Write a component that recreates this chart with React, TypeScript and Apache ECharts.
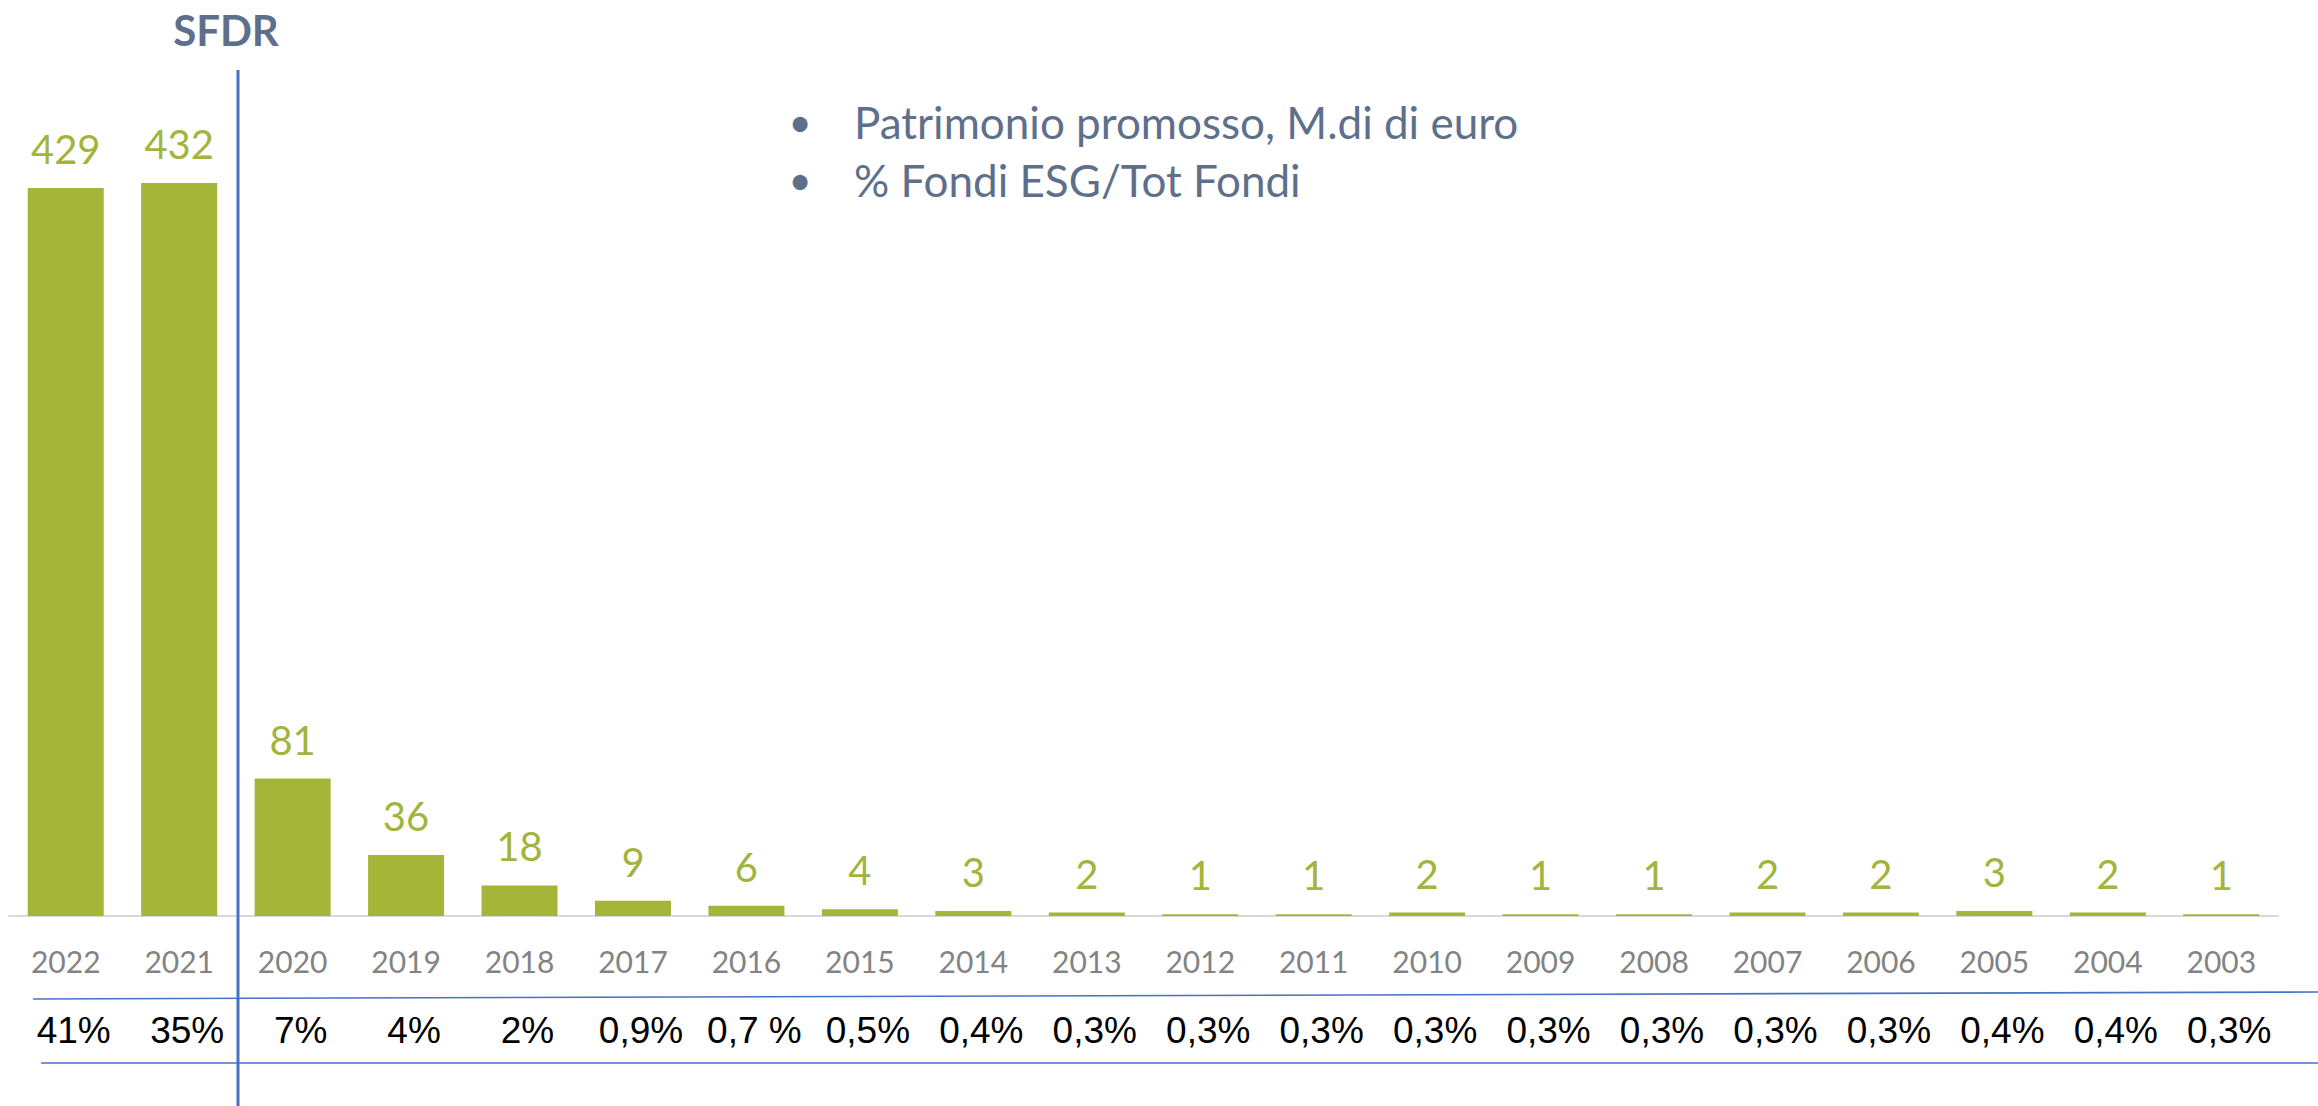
import React, { useEffect, useRef } from "react";
import * as echarts from "echarts";

const categories = ["2022", "2021", "2020", "2019", "2018", "2017", "2016", "2015", "2014", "2013", "2012", "2011", "2010", "2009", "2008", "2007", "2006", "2005", "2004", "2003"];
const assets = [429, 432, 81, 36, 18, 9, 6, 4, 3, 2, 1, 1, 2, 1, 1, 2, 2, 3, 2, 1];
const esgShare = ["41%", "35%", "7%", "4%", "2%", "0,9%", "0,7 %", "0,5%", "0,4%", "0,3%", "0,3%", "0,3%", "0,3%", "0,3%", "0,3%", "0,3%", "0,3%", "0,4%", "0,4%", "0,3%"];
const legendItems = ["Patrimonio promosso, M.di di euro", "% Fondi ESG/Tot Fondi"];
const markerLabel = "SFDR";

const GREEN = "#A5B537";
const SLATE = "#5E6F8C";
const BLUE = "#4472C4";

export default function App() {
  const ref = useRef<HTMLDivElement>(null);
  useEffect(() => {
    if (!ref.current) return;
    const chart = echarts.init(ref.current, undefined, { renderer: "svg" });
    const legendGraphics: any[] = [];
    legendItems.forEach((t, i) => {
      legendGraphics.push({
        type: "text",
        x: 800,
        y: 122 + i * 58,
        style: { text: "•", fontFamily: "Lato", fontSize: 40, fill: SLATE, textAlign: "center", textVerticalAlign: "middle" },
      });
      legendGraphics.push({
        type: "text",
        x: 854,
        y: 122 + i * 58,
        style: { text: t, fontFamily: "Lato", fontSize: 44, fill: SLATE, textAlign: "left", textVerticalAlign: "middle" },
      });
    });
    chart.setOption({
      animation: false,
      backgroundColor: "#ffffff",
      grid: { left: 9, right: 40, top: 183, bottom: 190, containLabel: false },
      xAxis: [
        {
          type: "category",
          data: categories,
          position: "bottom",
          axisTick: { show: false },
          axisLine: { show: true, lineStyle: { color: "#d9d9d9", width: 2 } },
          axisLabel: { interval: 0, margin: 30, fontFamily: "Lato", fontSize: 30, color: "#838383" },
        },
        {
          type: "category",
          data: categories,
          position: "bottom",
          offset: 0,
          axisTick: { show: false },
          axisLine: { show: false },
          axisLabel: {
            interval: 0,
            margin: 96,
            fontFamily: "'Liberation Sans', Arial, sans-serif",
            fontSize: 37,
            color: "#000000",
            padding: [0, 0, 0, 16],
            formatter: (_v: string, i: number) => esgShare[i],
          },
        },
      ],
      yAxis: { type: "value", min: 0, max: 432, show: false, splitLine: { show: false } },
      series: [
        {
          type: "bar",
          xAxisIndex: 0,
          data: assets,
          barWidth: 76,
          itemStyle: { color: GREEN },
          label: {
            show: true,
            position: "top",
            distance: 19,
            fontFamily: "Lato",
            fontSize: 40,
            lineHeight: 40,
            color: "#A3B43A",
          },
        },
      ],
      graphic: [
        {
          type: "line",
          shape: { x1: 238, y1: 70, x2: 238, y2: 1106 },
          style: { stroke: BLUE, lineWidth: 3 },
          z: 10,
        },
        {
          type: "line",
          shape: { x1: 33, y1: 999, x2: 2318, y2: 992 },
          style: { stroke: BLUE, lineWidth: 1.6 },
        },
        {
          type: "line",
          shape: { x1: 41, y1: 1063, x2: 2318, y2: 1063 },
          style: { stroke: BLUE, lineWidth: 1.6 },
        },
        {
          type: "text",
          x: 226,
          y: 30,
          style: { text: markerLabel, fontFamily: "Lato", fontWeight: "bold", fontSize: 42, fill: SLATE, textAlign: "center", textVerticalAlign: "middle" },
        },
        ...legendGraphics,
      ],
    });
    return () => chart.dispose();
  }, []);
  return <div ref={ref} style={{ position: "fixed", left: 0, top: 0, width: 2318, height: 1106 }} />;
}
